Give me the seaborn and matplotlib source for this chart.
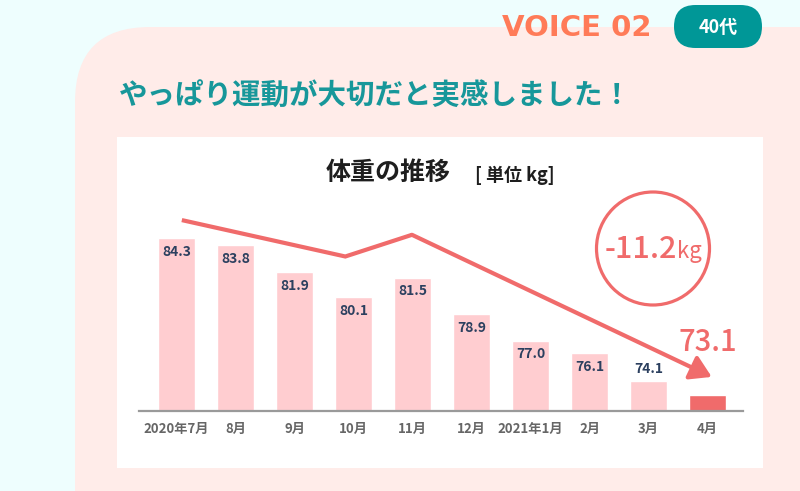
import matplotlib
matplotlib.use("Agg")
import matplotlib.pyplot as plt
import seaborn as sns
import pandas as pd
from matplotlib.patches import FancyBboxPatch, Rectangle, Circle

# ---- data ----
months = ["2020年7月", "8月", "9月", "10月", "11月", "12月", "2021年1月", "2月", "3月", "4月"]
weights = [84.3, 83.8, 81.9, 80.1, 81.5, 78.9, 77.0, 76.1, 74.1, 73.1]
kinds = ["past"] * 9 + ["now"]
trend_x = [0.09, 2.86, 3.99, 9.07]
trend_y = [85.6, 83.0, 84.55, 74.4]

sns.set_theme(style="white")
plt.rcParams["font.family"] = ["Noto Sans CJK JP", "DejaVu Sans"]

BG = "#eefefe"
PANEL = "#ffece9"
TEAL = "#17979a"
PILL = "#009797"
CORAL = "#ff7b58"
BAR = "#ffcdd0"
RED = "#f06b6b"
NAVY = "#2c405f"

fig = plt.figure(figsize=(8, 4.91), dpi=100, facecolor=BG)

# background / decoration layer in pixel coordinates
bg = fig.add_axes([0, 0, 1, 1])
bg.set_xlim(0, 800)
bg.set_ylim(491, 0)
bg.axis("off")
bg.add_patch(FancyBboxPatch((75, 27), 900, 600, boxstyle="round,pad=0,rounding_size=75",
                            fc=PANEL, ec="none"))
bg.add_patch(Rectangle((117, 137), 646, 331, fc="white", ec="none"))
bg.add_patch(FancyBboxPatch((674, 5), 88, 43, boxstyle="round,pad=0,rounding_size=21.5",
                            fc=PILL, ec="none"))
bg.text(718, 27, "40代", ha="center", va="center", color="white", fontsize=13, fontweight="bold")
bg.text(652, 28, "VOICE 02", ha="right", va="center", color=CORAL, fontsize=21,
        fontweight="bold", family=["DejaVu Sans"])
bg.text(119, 97, "やっぱり運動が大切だと実感しました！", ha="left", va="center", color=TEAL,
        fontsize=20.5, fontweight="bold")
bg.text(388, 173, "体重の推移", ha="center", va="center", color="#1e1e1e", fontsize=18, fontweight="bold")
bg.text(475, 175, "[ 単位 kg]", ha="left", va="center", color="#1e1e1e", fontsize=13, fontweight="bold")
bg.add_patch(Circle((653, 248.5), 56.5, fc="none", ec=RED, lw=2.3))
diff = weights[-1] - weights[0]
bg.text(677, 258, f"{diff:.1f}", ha="right", va="baseline", color=RED,
        fontsize=22, fontweight="medium")
bg.text(677, 258, "kg", ha="left", va="baseline", color=RED, fontsize=16)

# chart
ax = fig.add_axes([139 / 800, (491 - 410.5) / 491, 604 / 800, (410.5 - 190) / 491])
ax.patch.set_alpha(0)
df = pd.DataFrame({"month": months, "weight": weights, "kind": kinds})
sns.barplot(data=df, x="month", y="weight", hue="kind", palette={"past": BAR, "now": RED},
            width=0.63, dodge=False, legend=False, saturation=1, ax=ax)
ax.set_xlim(-0.636, 9.60)
ax.set_ylim(72, 72 + (410.5 - 190) / 14)
for s in ["left", "top", "right"]:
    ax.spines[s].set_visible(False)
ax.spines["bottom"].set_color("#9a9a9a")
ax.spines["bottom"].set_linewidth(1.6)
ax.set_xlabel("")
ax.set_ylabel("")
ax.set_yticks([])
ax.tick_params(axis="x", length=0, pad=8, labelsize=9.5, labelcolor="#666666")
for lab in ax.get_xticklabels():
    lab.set_fontweight("bold")

for i, w in enumerate(weights):
    if i == len(weights) - 1:
        ax.annotate(f"{w:.1f}", (i, w), xytext=(0, 38), textcoords="offset points",
                    ha="center", va="center", color=RED, fontsize=21, fontweight="medium")
    elif w - 72 < 3:
        ax.annotate(f"{w:.1f}", (i, w), xytext=(0, 9), textcoords="offset points",
                    ha="center", va="center", color=NAVY, fontsize=10, fontweight="bold")
    else:
        ax.annotate(f"{w:.1f}", (i, w), xytext=(0, -10), textcoords="offset points",
                    ha="center", va="center", color=NAVY, fontsize=10, fontweight="bold")

ax.plot(trend_x[:3], trend_y[:3], color=RED, lw=3, solid_capstyle="butt",
        solid_joinstyle="miter", clip_on=False)
ax.annotate("", xy=(trend_x[3], trend_y[3]), xytext=(trend_x[2], trend_y[2]),
            arrowprops=dict(arrowstyle="-|>,head_length=0.9,head_width=0.55", color=RED,
                            lw=3, shrinkA=0, shrinkB=0, mutation_scale=14),
            annotation_clip=False)

fig.savefig("out.png", dpi=100, facecolor=BG)
